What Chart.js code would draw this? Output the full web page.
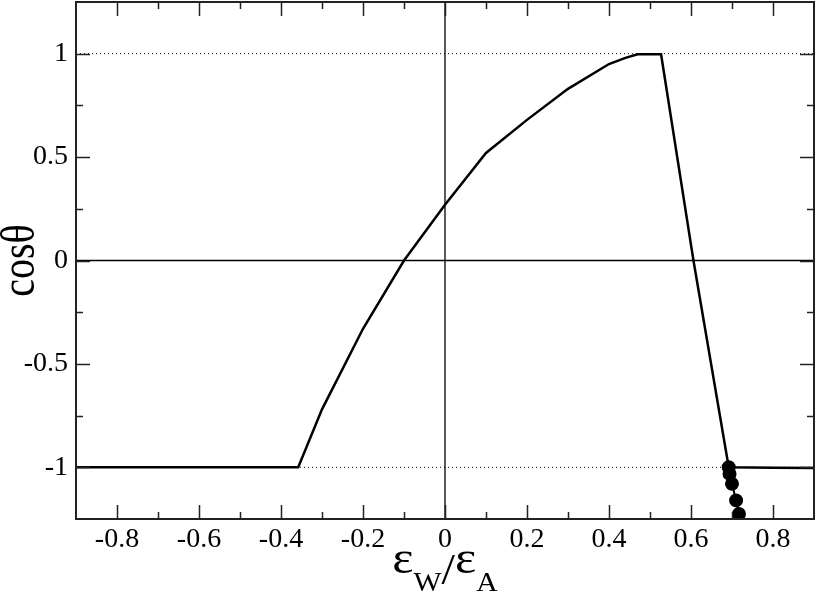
<!DOCTYPE html>
<html>
<head>
<meta charset="utf-8">
<script src="https://cdn.jsdelivr.net/npm/chart.js@4/dist/chart.umd.min.js"></script>
<style>
  html, body { margin: 0; padding: 0; background: #fff; }
  #wrap { width: 817px; height: 602px; }
</style>
</head>
<body>
<div id="wrap"><canvas id="chart" width="817" height="602"></canvas></div>
<script>
// curve data
const curveX = [-0.9, -0.8, -0.7, -0.6, -0.5, -0.4, -0.358, -0.3, -0.2, -0.1, 0, 0.1, 0.2, 0.3, 0.4, 0.44, 0.47, 0.527, 0.606, 0.692, 0.8, 0.9];
const curveY = [-1, -1, -1, -1, -1, -1, -1, -0.72, -0.33, 0, 0.27, 0.52, 0.68, 0.83, 0.95, 0.98, 0.997, 0.997, 0, -1, -1.002, -1.003];

// filled circles at the bottom right
const dotX = [0.692, 0.694, 0.700, 0.710, 0.717];
const dotY = [-1.0, -1.032, -1.08, -1.16, -1.226];

// axis ranges and ticks
const xMin = -0.9, xMax = 0.9;
const yMin = -1.25, yMax = 1.25;
const xTickLabels = [-0.8, -0.6, -0.4, -0.2, 0, 0.2, 0.4, 0.6, 0.8];
const xMinorTicks = [-0.7, -0.5, -0.3, -0.1, 0.1, 0.3, 0.5, 0.7];
const yTickLabels = [-1, -0.5, 0, 0.5, 1];
const yMinorTicks = [-0.75, -0.25, 0.25, 0.75];
const dottedLevels = [1, -1];

const serif = '"Liberation Serif", "Times New Roman", serif';

function pts(xs, ys) {
  return xs.map((x, i) => ({ x: x, y: ys[i] }));
}

// frame, inward ticks and axis titles
const framePlugin = {
  id: 'frame',
  afterDraw(chart) {
    const ctx = chart.ctx;
    const a = chart.chartArea;
    const xs = chart.scales.x, ys = chart.scales.y;
    ctx.save();
    ctx.strokeStyle = '#222';
    ctx.lineWidth = 2;
    ctx.strokeRect(a.left, a.top, a.right - a.left, a.bottom - a.top);

    function xTick(v, len) {
      const p = Math.round(xs.getPixelForValue(v)) + 0.5;
      ctx.beginPath();
      ctx.moveTo(p, a.bottom); ctx.lineTo(p, a.bottom - len);
      ctx.moveTo(p, a.top); ctx.lineTo(p, a.top + len);
      ctx.stroke();
    }
    function yTick(v, len) {
      const p = Math.round(ys.getPixelForValue(v)) + 0.5;
      ctx.beginPath();
      ctx.moveTo(a.left, p); ctx.lineTo(a.left + len, p);
      ctx.moveTo(a.right, p); ctx.lineTo(a.right - len, p);
      ctx.stroke();
    }
    ctx.lineWidth = 1.5;
    xTickLabels.forEach(v => xTick(v, 14));
    xMinorTicks.forEach(v => xTick(v, 7));
    yTickLabels.forEach(v => yTick(v, 14));
    yMinorTicks.forEach(v => yTick(v, 7));

    // y title
    ctx.fillStyle = '#000';
    ctx.save();
    ctx.translate(34, (a.top + a.bottom) / 2);
    ctx.scale(1.2, 1);
    ctx.rotate(-Math.PI / 2);
    ctx.font = '40px ' + serif;
    ctx.textAlign = 'center';
    ctx.textBaseline = 'alphabetic';
    ctx.fillText('cosθ', 0, 0);
    ctx.restore();

    // x title with subscripts
    const parts = [
      { t: 'ε', f: '46px ' + serif, b: 573 },
      { t: 'W', f: '27px ' + serif, b: 591 },
      { t: '/', f: '44px ' + serif, b: 584 },
      { t: 'ε', f: '46px ' + serif, b: 573 },
      { t: 'A', f: '27px ' + serif, b: 591 }
    ];
    ctx.save();
    ctx.translate((a.left + a.right) / 2, 0);
    ctx.scale(1.1, 1);
    ctx.textAlign = 'left';
    ctx.textBaseline = 'alphabetic';
    let total = 0;
    parts.forEach(p => { ctx.font = p.f; p.w = ctx.measureText(p.t).width; total += p.w; });
    let cx = -total / 2;
    parts.forEach(p => { ctx.font = p.f; ctx.fillText(p.t, cx, p.b); cx += p.w; });
    ctx.restore();
    ctx.restore();
  }
};

const datasets = [
  {
    data: pts(dotX, dotY),
    showLine: true,
    borderColor: '#000',
    backgroundColor: '#000',
    borderWidth: 2,
    pointRadius: 6,
    pointHoverRadius: 6
  },
  {
    data: pts(curveX, curveY),
    showLine: true,
    borderColor: '#000',
    borderWidth: 2.5,
    pointRadius: 0
  },
  {
    data: [{ x: 0, y: yMin }, { x: 0, y: yMax }],
    showLine: true,
    borderColor: '#000',
    borderWidth: 1.3,
    pointRadius: 0
  },
  {
    data: [{ x: xMin, y: 0 }, { x: xMax, y: 0 }],
    showLine: true,
    borderColor: '#000',
    borderWidth: 1.3,
    pointRadius: 0
  }
];
dottedLevels.forEach(lv => {
  datasets.push({
    data: [{ x: xMin, y: lv }, { x: xMax, y: lv }],
    showLine: true,
    borderColor: '#000',
    borderWidth: 1,
    borderDash: [1, 3],
    pointRadius: 0
  });
});

new Chart(document.getElementById('chart'), {
  type: 'scatter',
  data: { datasets: datasets },
  options: {
    responsive: false,
    animation: false,
    layout: { autoPadding: false, padding: { top: 2, right: 3, left: 0, bottom: 0 } },
    plugins: { legend: { display: false }, tooltip: { enabled: false } },
    scales: {
      x: {
        type: 'linear',
        min: xMin,
        max: xMax,
        grid: { display: false, drawTicks: false },
        border: { display: false },
        afterBuildTicks: s => { s.ticks = xTickLabels.map(v => ({ value: v })); },
        afterFit: s => {
          s.height = 83;
          s.paddingLeft = 0;
          s.paddingRight = 0;
        },
        ticks: {
          padding: 4,
          color: '#000',
          font: { family: serif, size: 28 },
          callback: v => String(v)
        }
      },
      y: {
        type: 'linear',
        min: yMin,
        max: yMax,
        grid: { display: false, drawTicks: false },
        border: { display: false },
        afterBuildTicks: s => { s.ticks = yTickLabels.map(v => ({ value: v })); },
        afterFit: s => {
          s.width = 76;
          s.paddingTop = 0;
          s.paddingBottom = 0;
        },
        ticks: {
          padding: 8,
          color: '#000',
          font: { family: serif, size: 28 },
          callback: v => String(v)
        }
      }
    }
  },
  plugins: [framePlugin]
});
</script>
</body>
</html>
